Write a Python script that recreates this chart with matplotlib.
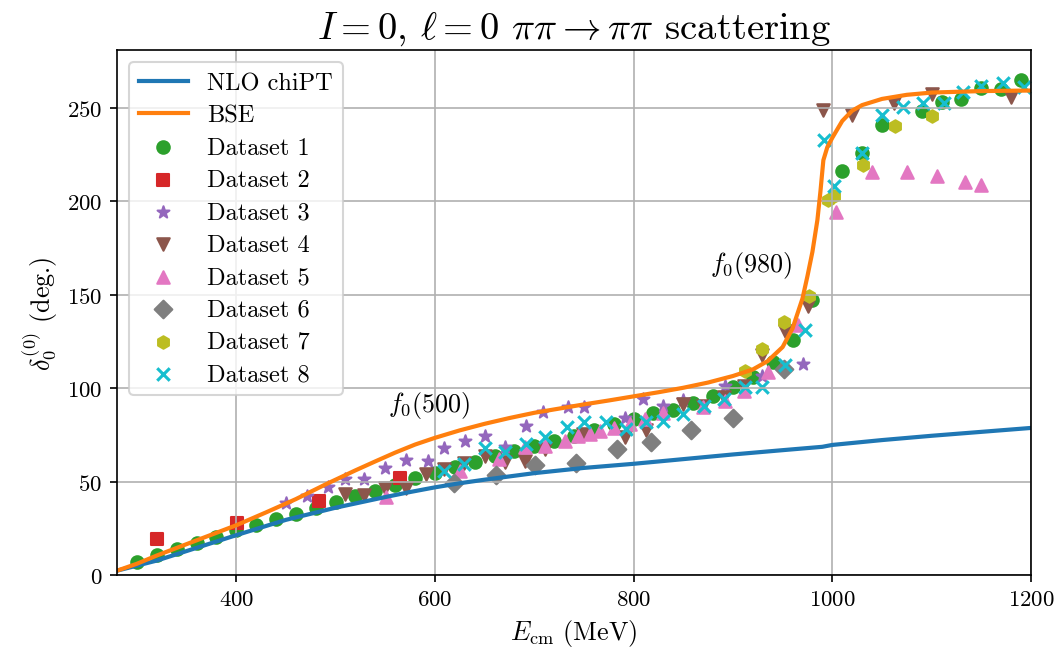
import matplotlib
matplotlib.use("Agg")
import matplotlib.pyplot as plt

plt.rcParams['font.family'] = 'serif'
plt.rcParams['font.serif'] = ['cmr10']
plt.rcParams['mathtext.fontset'] = 'cm'
plt.rcParams['axes.formatter.use_mathtext'] = True

# theory curves (MeV, degrees)
nlo_E = [280, 320, 360, 400, 450, 500, 550, 575, 600, 625, 650, 700, 750, 800,
         850, 900, 950, 990, 1000, 1050, 1100, 1150, 1200]
nlo_d = [2.3, 7.7, 14.5, 21.3, 29.5, 36.0, 41.7, 44.4, 46.9, 49.1, 51.0, 54.5,
         57.3, 59.5, 62.0, 64.5, 66.8, 68.6, 69.6, 72.2, 74.5, 76.6, 78.7]

bse_E = [280, 300, 320, 350, 400, 430, 460, 490, 520, 540, 560, 580, 600, 625,
         650, 675, 700, 750, 775, 800, 825, 850, 875, 900, 920, 935, 950, 960,
         970, 975, 980, 985, 988, 991, 995, 1000, 1010, 1020, 1030, 1050, 1075,
         1100, 1150, 1200]
bse_d = [2.3, 6.0, 10.4, 16.5, 26.6, 33.5, 40.6, 48.5, 56.0, 60.8, 65.5, 69.8,
         73.4, 77.4, 80.9, 84.0, 86.8, 91.3, 93.4, 95.6, 97.8, 100.2, 103.0,
         106.5, 110.0, 114.5, 122.0, 132.0, 148.0, 160.0, 173.0, 190.0, 205.0,
         222.0, 229.0, 234.0, 243.0, 248.5, 251.5, 254.8, 257.0, 258.2, 259.0,
         259.3]

# experimental phase shifts
d1_E = [300, 320, 340, 360, 380, 400, 420, 440, 460, 480, 500, 520, 540, 560,
        580, 600, 620, 640, 660, 680, 700, 720, 740, 760, 780, 800, 820, 840,
        860, 880, 900, 920, 940, 960, 980, 1010, 1030, 1050, 1090, 1110, 1130,
        1150, 1170, 1190]
d1_d = [6.8, 10.9, 13.9, 17.0, 20.5, 24.2, 26.6, 29.8, 32.7, 35.8, 38.9, 42.0,
        45.0, 48.2, 51.8, 54.6, 57.6, 60.5, 63.6, 66.2, 68.9, 71.9, 74.6, 77.8,
        80.8, 83.7, 86.5, 88.3, 92.0, 95.7, 100.5, 106.2, 114.0, 125.5, 147.4,
        216.1, 225.9, 240.9, 248.6, 253.0, 255.0, 260.7, 260.2, 265.0]

d2_E = [320, 401, 483, 565]
d2_d = [19.0, 27.7, 39.6, 51.9]

d3_E = [450, 471, 492, 509, 529, 550, 571, 593, 609, 630, 650, 671, 692, 709,
        734, 750, 791, 809, 830, 850, 892, 929, 971]
d3_d = [38.7, 42.5, 47.2, 51.2, 51.4, 57.1, 61.4, 61.2, 67.8, 71.6, 74.2, 68.4,
        79.6, 87.0, 90.1, 90.1, 83.9, 94.0, 90.6, 93.8, 101.0, 106.7, 113.0]

d4_E = [509, 529, 550, 571, 591, 609, 629, 650, 671, 691, 711, 749, 791, 812,
        850, 870, 891, 911, 929, 952, 976, 991, 1020, 1062, 1100, 1180]
d4_d = [43.4, 42.9, 46.5, 46.4, 54.0, 56.5, 59.8, 63.5, 60.3, 61.2, 67.5, 75.5,
        73.7, 77.5, 91.5, 90.6, 95.1, 101.0, 117.8, 130.8, 144.2, 249.0, 246.3,
        252.7, 257.5, 255.7]

d5_E = [551, 625, 664, 691, 711, 731, 744, 756, 766, 780, 796, 811, 830, 870,
        892, 911, 935, 965, 1004, 1040, 1075, 1105, 1134, 1150]
d5_d = [41.9, 55.8, 62.0, 68.4, 69.2, 71.9, 74.4, 75.5, 77.0, 78.5, 81.0, 83.5,
        86.8, 89.8, 93.3, 98.7, 108.8, 133.8, 194.5, 215.6, 215.6, 213.8, 210.5,
        208.8]

d6_E = [619, 661, 701, 742, 783, 817, 858, 900, 951]
d6_d = [49.3, 53.7, 58.9, 60.0, 67.5, 71.4, 77.8, 83.9, 110.0]

d7_E = [912, 929, 951, 977, 996, 1002, 1031, 1063, 1100]
d7_d = [109.0, 121.2, 135.6, 149.5, 200.9, 203.0, 219.5, 240.2, 245.4]

d8_E = [609, 629, 650, 671, 692, 711, 733, 750, 772, 792, 812, 830, 850, 871,
        891, 912, 929, 952, 973, 992, 1002, 1030, 1050, 1071, 1091, 1112, 1132,
        1150, 1172, 1193]
d8_d = [55.8, 59.4, 67.8, 65.7, 70.1, 74.0, 79.0, 82.0, 82.0, 78.0, 82.0, 82.4,
        86.2, 90.3, 94.2, 100.5, 100.5, 112.5, 131.2, 232.9, 208.0, 225.9, 246.3,
        250.7, 252.7, 252.7, 258.4, 261.6, 263.4, 261.1]

datasets = [(d1_E, d1_d, 'o', 'C2'), (d2_E, d2_d, 's', 'C3'),
            (d3_E, d3_d, '*', 'C4'), (d4_E, d4_d, 'v', 'C5'),
            (d5_E, d5_d, '^', 'C6'), (d6_E, d6_d, 'D', 'C7'),
            (d7_E, d7_d, 'h', 'C8'), (d8_E, d8_d, 'x', 'C9')]

fig, ax = plt.subplots(figsize=(7.08, 4.3733), dpi=150)
fig.subplots_adjust(left=0.1102, right=0.9708, bottom=0.122, top=0.9223)

ax.plot(nlo_E, nlo_d, color='C0', lw=2.0, label='NLO chiPT')
ax.plot(bse_E, bse_d, color='C1', lw=2.0, label='BSE')
for i, (E, d, m, c) in enumerate(datasets):
    ax.scatter(E, d, marker=m, color=c, label=f'Dataset {i + 1}')

ax.text(594, 91.5, r'$f_0(500)$', ha='center', va='center', fontsize=12.5)
ax.text(918, 166, r'$f_0(980)$', ha='center', va='center', fontsize=12.5)

ax.set_xlim(280, 1200)
ax.set_ylim(0, 281)
ax.set_xticks([400, 600, 800, 1000, 1200])
ax.set_yticks([0, 50, 100, 150, 200, 250])
ax.tick_params(labelsize=11)
ax.grid(True)
ax.set_xlabel(r'$E_{\rm cm}$ (MeV)', fontsize=12.5)
ax.set_ylabel(r'$\delta_0^{(0)}$ (deg.)', fontsize=12.5)
ax.set_title(r'$I=0$, $\ell=0$ $\pi\pi\to\pi\pi$ scattering', fontsize=18.5)
ax.legend(loc='upper left', fontsize=11.7, labelspacing=0.42)

fig.savefig('out.png', dpi=150)
